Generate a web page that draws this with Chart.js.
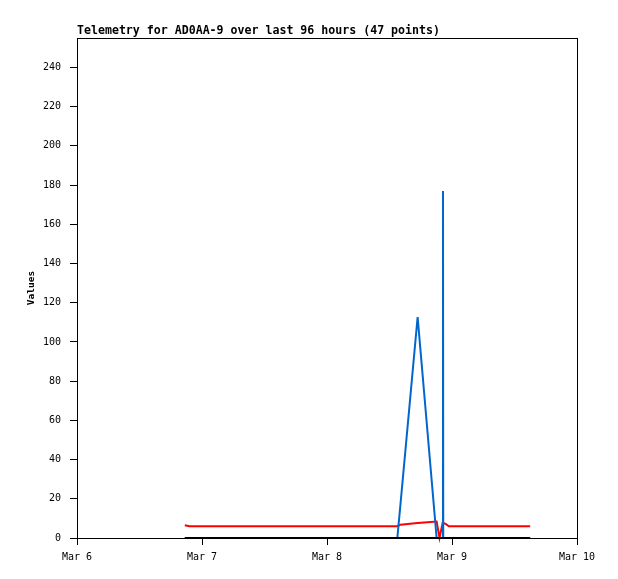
<!DOCTYPE html>
<html>
<head>
<meta charset="utf-8">
<title>Telemetry for AD0AA-9</title>
<script src="https://cdn.jsdelivr.net/npm/chart.js@4/dist/chart.umd.min.js"></script>
<style>
	html, body { margin: 0; padding: 0; background: #fff; }
	#chart { display: block; }
</style>
</head>
<body>
<canvas id="chart" width="618" height="579"></canvas>
<script>
// hours since Mar 6 00:00
const hours = [
	20.7, 21.6,
	23.2, 24.8, 26.4, 28.0, 29.6, 31.2, 32.8, 34.4, 36.0, 37.6, 39.2, 40.8,
	42.4, 44.0, 45.6, 47.2, 48.8, 50.4, 52.0, 53.6, 55.2, 56.8, 58.4, 60.0,
	61.5, 62.1, 65.4, 69.05, 69.6, 70.22, 70.27, 70.32, 70.85, 71.4,
	72.9, 74.3, 75.7, 77.1, 78.5, 79.9, 81.3, 82.7, 84.1, 85.5, 87.0
];
const redValues = [
	6.5, 6.0,
	6.0, 6.0, 6.0, 6.0, 6.0, 6.0, 6.0, 6.0, 6.0, 6.0, 6.0, 6.0,
	6.0, 6.0, 6.0, 6.0, 6.0, 6.0, 6.0, 6.0, 6.0, 6.0, 6.0, 6.0,
	6.0, 6.8, 7.6, 8.4, 0, 7.8, 7.8, 7.7, 7.1, 6.0,
	6.0, 6.0, 6.0, 6.0, 6.0, 6.0, 6.0, 6.0, 6.0, 6.0, 6.0
];
const blueValues = [
	0, 0,
	0, 0, 0, 0, 0, 0, 0, 0, 0, 0, 0, 0,
	0, 0, 0, 0, 0, 0, 0, 0, 0, 0, 0, 0,
	0, 17, 112.7, 0, 0, 0, 177, 0, 0, 0,
	0, 0, 0, 0, 0, 0, 0, 0, 0, 0, 0
];
const blackValues = [
	0, 0,
	0, 0, 0, 0, 0, 0, 0, 0, 0, 0, 0, 0,
	0, 0, 0, 0, 0, 0, 0, 0, 0, 0, 0, 0,
	0, 0, 0, 0, 0, 0, 0, 0, 0, 0,
	0, 0, 0, 0, 0, 0, 0, 0, 0, 0, 0
];
const dayLabels = ['Mar 6', 'Mar 7', 'Mar 8', 'Mar 9', 'Mar 10'];
const titleText = 'Telemetry for AD0AA-9 over last 96 hours (47 points)';

const toPoints = (vals) => hours.map((h, i) => ({ x: h, y: vals[i] }));

// box round the plot area and the title at its left edge
const frame = {
	id: 'frame',
	afterDraw(chart) {
		const { ctx, chartArea: a } = chart;
		ctx.save();
		ctx.strokeStyle = '#000';
		ctx.lineWidth = 1;
		ctx.strokeRect(Math.round(a.left) + 0.5, Math.round(a.top) + 0.5,
			Math.round(a.right - a.left), Math.round(a.bottom - a.top));
		ctx.fillStyle = '#000';
		ctx.font = 'bold 11.6px "DejaVu Sans Mono"';
		ctx.textBaseline = 'alphabetic';
		ctx.fillText(titleText, a.left, a.top - 4);
		ctx.restore();
	}
};

const mono = '"DejaVu Sans Mono", monospace';

new Chart(document.getElementById('chart'), {
	type: 'line',
	data: {
		datasets: [
			{ data: toPoints(blackValues), borderColor: '#000000', order: 0 },
			{ data: toPoints(blueValues), borderColor: '#0066cc', order: 1 },
			{ data: toPoints(redValues), borderColor: '#ff0000', order: 2 },
		],
	},
	options: {
		responsive: false,
		animation: false,
		devicePixelRatio: 1,
		layout: { padding: { left: 0, top: 38, right: 41, bottom: 0 } },
		elements: {
			point: { radius: 0 },
			line: { borderWidth: 2, tension: 0, fill: false },
		},
		datasets: { line: { clip: false } },
		plugins: {
			legend: { display: false },
			tooltip: { enabled: false },
			title: { display: false },
		},
		scales: {
			x: {
				type: 'linear',
				min: 0,
				max: 96,
				afterFit: (s) => { s.height = 41; },
				border: { display: true, color: '#000', width: 1 },
				grid: { drawOnChartArea: false, drawTicks: true, tickLength: 7, color: '#000' },
				ticks: {
					stepSize: 24,
					padding: 6,
					maxRotation: 0,
					color: '#000',
					font: { family: mono, size: 10 },
					callback: (v) => dayLabels[v / 24],
				},
			},
			y: {
				min: 0,
				max: 255,
				afterFit: (s) => { s.width = 77; },
				border: { display: true, color: '#000', width: 1 },
				grid: { drawOnChartArea: false, drawTicks: true, tickLength: 7, color: '#000' },
				ticks: {
					stepSize: 20,
					includeBounds: false,
					padding: 9,
					color: '#000',
					font: { family: mono, size: 10 },
				},
				title: {
					display: true,
					text: 'Values',
					color: '#000',
					padding: { top: 26, bottom: 0 },
					font: { family: mono, size: 9.5, weight: 'bold' },
				},
			},
		},
	},
	plugins: [frame],
});
</script>
</body>
</html>
